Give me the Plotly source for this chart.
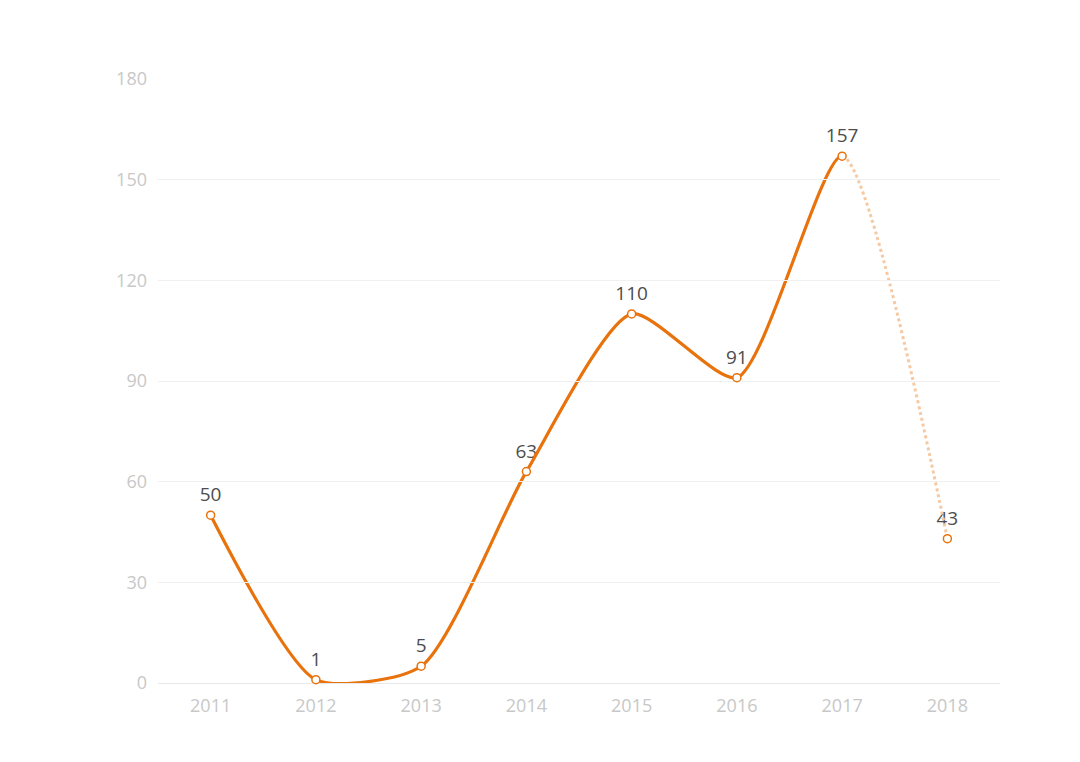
import plotly.graph_objects as go

years = ["2011", "2012", "2013", "2014", "2015", "2016", "2017", "2018"]
values = [50, 1, 5, 63, 110, 91, 157, 43]
n_actual = 7  # 2011-2017 solid, 2017-2018 dotted (forecast)

orange = "#e8720c"
light_orange = "#f6c9a2"
smooth = 0.65

n = len(years)
split = (n_actual - 1 + 0.5) / n  # domain fraction where the last actual year sits

fig = go.Figure()

# value labels (main axes; transparent markers only set the label offset)
fig.add_trace(go.Scatter(
    x=years, y=values, xaxis="x", yaxis="y",
    mode="markers+text",
    marker=dict(size=13, color="rgba(0,0,0,0)"),
    text=[str(v) for v in values],
    textposition="top center",
    textfont=dict(size=19, color="#4d4d4d", family="Open Sans, sans-serif"),
    cliponaxis=False, hoverinfo="skip",
    showlegend=False,
))

# solid actual line: full series, clipped at the last actual year
fig.add_trace(go.Scatter(
    x=years, y=values, xaxis="x2", yaxis="y",
    mode="lines",
    line=dict(color=orange, width=3.2, shape="spline", smoothing=smooth),
    hoverinfo="skip", showlegend=False,
))

# dotted forecast line: full series, clipped from the last actual year on
fig.add_trace(go.Scatter(
    x=years, y=values, xaxis="x3", yaxis="y",
    mode="lines",
    line=dict(color=light_orange, width=3, dash="dot", shape="spline", smoothing=smooth),
    hoverinfo="skip", showlegend=False,
))

# point markers on top
fig.add_trace(go.Scatter(
    x=years, y=values, xaxis="x4", yaxis="y",
    mode="markers",
    marker=dict(size=8, color="white", line=dict(color=orange, width=1.5)),
    cliponaxis=False,
    showlegend=False,
))

hidden_cat = dict(type="category", categoryorder="array", categoryarray=years,
                  anchor="y", visible=False, showgrid=False)

fig.update_layout(
    width=1080, height=762,
    margin=dict(l=158, r=80, t=79, b=79),
    paper_bgcolor="white", plot_bgcolor="rgba(0,0,0,0)",
    font=dict(family="Open Sans, sans-serif"),
    xaxis=dict(
        type="category", categoryorder="array", categoryarray=years,
        range=[-0.5, n - 0.5], domain=[0, 1],
        showgrid=False,
        showline=True, linecolor="#e8e8e8", linewidth=1,
        ticks="", tickfont=dict(size=18, color="#c8c8c8"),
        ticklabelstandoff=6,
    ),
    xaxis2=dict(hidden_cat, range=[-0.5, n_actual - 1], domain=[0, split]),
    xaxis3=dict(hidden_cat, range=[n_actual - 1, n - 0.5], domain=[split, 1]),
    xaxis4=dict(hidden_cat, range=[-0.5, n - 0.5], domain=[0, 1]),
    yaxis=dict(
        range=[0, 180], dtick=30,
        showgrid=True, gridcolor="#f0f0f0", gridwidth=1,
        zeroline=False, showline=False,
        ticks="", tickfont=dict(size=18, color="#c8c8c8"),
        ticklabelstandoff=10,
    ),
)

fig.write_html("out.html")
